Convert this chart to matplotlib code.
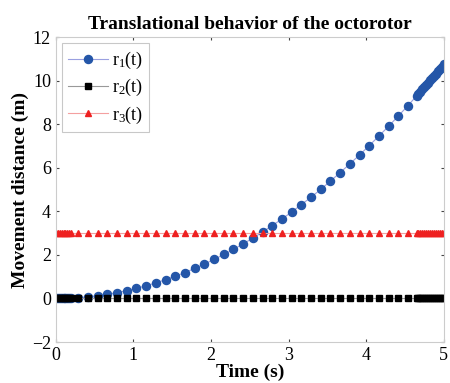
import matplotlib
matplotlib.use("Agg")
import matplotlib.pyplot as plt

plt.rcParams['font.family'] = 'Liberation Serif'
plt.rcParams['mathtext.fontset'] = 'custom'
plt.rcParams['mathtext.rm'] = 'Liberation Serif'
plt.rcParams['mathtext.it'] = 'Liberation Serif:italic'

# sample times (dense at both ends, like a variable-step solver)
t = [0.0, 0.025, 0.05, 0.075, 0.1, 0.125, 0.15, 0.175, 0.2,
     0.29, 0.415, 0.54, 0.665, 0.79, 0.915, 1.04, 1.165, 1.29, 1.415,
     1.54, 1.665, 1.79, 1.915, 2.04, 2.165, 2.29, 2.415, 2.54, 2.665,
     2.79, 2.915, 3.04, 3.165, 3.29, 3.415, 3.54, 3.665, 3.79, 3.915,
     4.04, 4.165, 4.29, 4.415, 4.54,
     4.65, 4.675, 4.7, 4.725, 4.75, 4.775, 4.8, 4.825, 4.85, 4.875,
     4.9, 4.925, 4.95, 4.975, 5.0]

# r1: growing displacement
r1 = [0.0, 0.0, 0.0, 0.0, 0.0, 0.01, 0.01, 0.01, 0.02,
      0.04, 0.07, 0.13, 0.19, 0.27, 0.36, 0.47, 0.58, 0.72, 0.86,
      1.02, 1.19, 1.38, 1.58, 1.79, 2.02, 2.25, 2.51, 2.77, 3.05,
      3.35, 3.65, 3.97, 4.31, 4.65, 5.01, 5.39, 5.78, 6.18, 6.59,
      7.02, 7.46, 7.91, 8.38, 8.86,
      9.30, 9.40, 9.50, 9.60, 9.70, 9.80, 9.91, 10.01, 10.11, 10.22,
      10.32, 10.43, 10.54, 10.64, 10.75]

r2 = [0.0] * len(t)
r3 = [3.0] * len(t)

fig = plt.figure(figsize=(4.5, 3.83), dpi=100)
ax = fig.add_axes([0.124, 0.107, 0.862, 0.796])

ax.plot(t, r1, color='#9aa0e0', lw=0.8, marker='o', ms=5.8,
        mfc='#2456a8', mec='#2456a8', label='r$_1$(t)')
ax.plot(t, r2, color='#999999', lw=0.8, marker='s', ms=4.5,
        mfc='black', mec='black', label='r$_2$(t)')
ax.plot(t, r3, color='#f4a0a0', lw=0.8, marker='^', ms=4.5,
        mfc='#ee2020', mec='#ee2020', label='r$_3$(t)')

ax.set_xlim(0, 5)
ax.set_ylim(-2, 12)
ax.set_xticks([0, 1, 2, 3, 4, 5])
ax.set_yticks([-2, 0, 2, 4, 6, 8, 10, 12])
ax.tick_params(direction='in', length=2, labelsize=13, colors='#444444',
               labelcolor='black', top=True, right=True)
for s in ax.spines.values():
    s.set_color('#cccccc')

ax.set_title('Translational behavior of the octorotor', fontsize=14,
             fontweight='bold', pad=6)
ax.set_xlabel('Time (s)', fontsize=14, fontweight='bold', labelpad=0)
ax.set_ylabel('Movement distance (m)', fontsize=14, fontweight='bold', labelpad=2)

leg = ax.legend(loc='upper left', numpoints=1, fontsize=13, fancybox=False,
                handlelength=2.2, borderaxespad=0.35, labelspacing=0.35,
                handletextpad=0.2, borderpad=0.35)
leg.get_frame().set_edgecolor('#bbbbbb')
leg.get_frame().set_linewidth(0.8)

fig.savefig('out.png', dpi=100)
